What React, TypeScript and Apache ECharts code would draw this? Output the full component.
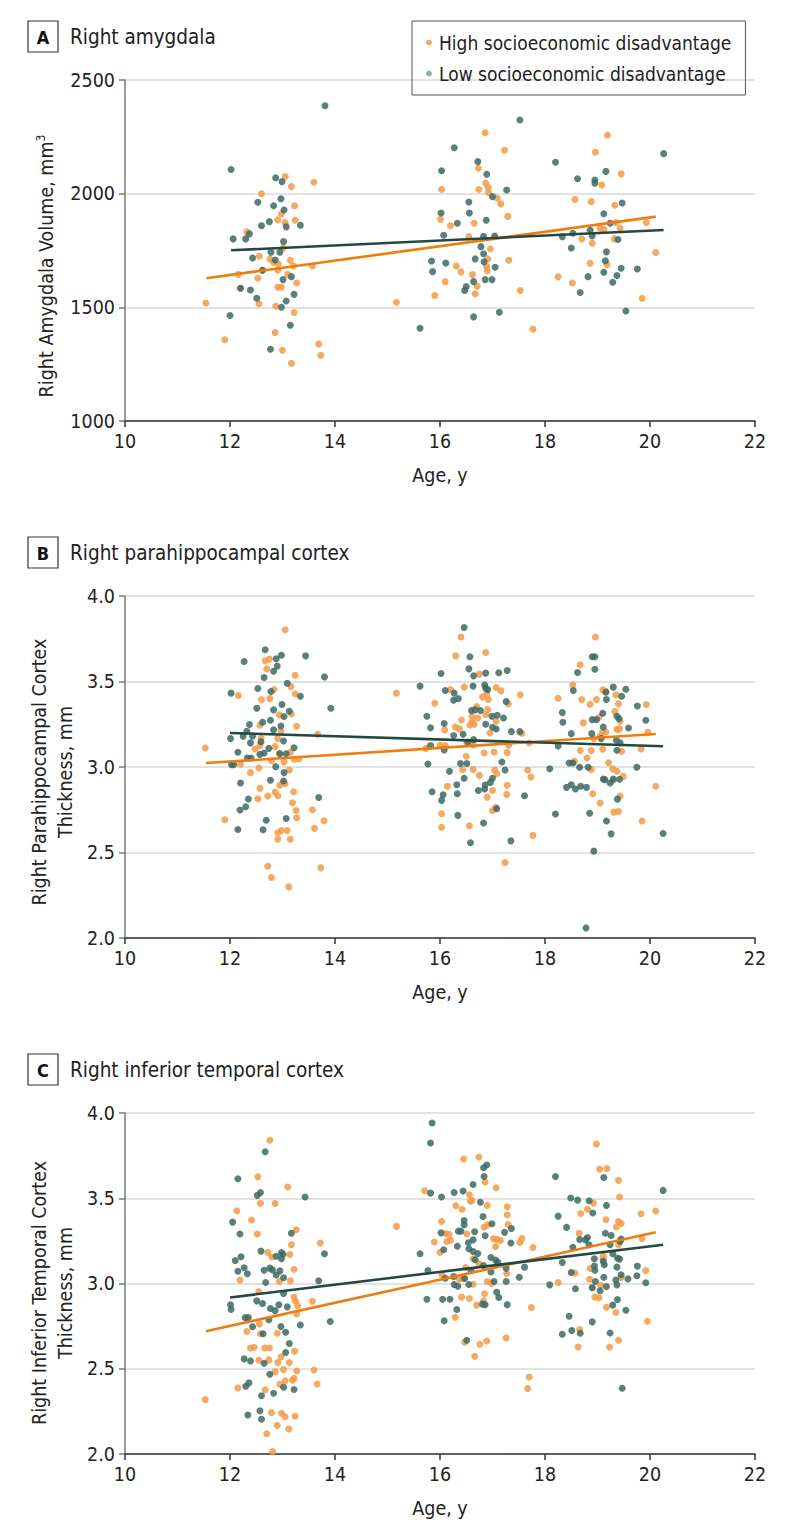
import React, { useEffect, useRef } from "react";
import * as echarts from "echarts";

const FONT = "'DejaVu Sans Condensed', 'Liberation Sans Narrow', sans-serif";

const HIGH = "High socioeconomic disadvantage";
const LOW = "Low socioeconomic disadvantage";

// Panel A: Right amygdala volume (mm3) vs age
const amygHigh: number[][] = [
  [13.05,2075],[13.17,2031],[13.6,2050],[12.6,2000],[13.23,1947],[12.91,1884],[12.98,1911],[13.24,1883],[13.05,1873],[12.32,1832],[13.01,1760],[12.56,1725],[12.76,1713],[12.83,1697],[12.92,1691],[13.15,1707],[13.21,1682],[13.57,1682],[12.91,1664],[12.62,1663],[12.16,1645],[12.53,1628],[13.1,1645],[13.27,1607],[12.91,1588],[12.98,1588],[12.2,1584],[11.54,1519],[12.55,1516],[12.87,1505],[13.22,1477],[15.17,1522],[11.9,1357],[12.86,1389],[13.69,1339],[13.73,1289],[13.0,1311],[13.17,1254],
  [16.86,2268],[17.23,2191],[16.73,2112],[16.87,2047],[16.92,2027],[16.74,2018],[16.92,2005],[17.09,1980],[17.16,1955],[17.29,1900],[16.03,2018],[16.01,1887],[16.2,1859],[16.65,1870],[16.55,1811],[16.96,1758],[17.31,1707],[16.91,1713],[16.89,1679],[16.9,1661],[16.31,1682],[16.4,1656],[16.62,1644],[16.71,1593],[16.67,1560],[16.1,1613],[15.9,1552],[17.53,1574],[17.77,1405],
  [19.19,2258],[18.96,2182],[19.45,2087],[19.08,2038],[18.57,1975],[18.88,1965],[19.33,1949],[19.35,1873],[19.43,1848],[19.05,1848],[19.12,1843],[18.7,1801],[18.9,1782],[19.32,1801],[18.86,1694],[19.18,1688],[19.93,1873],[20.11,1741],[18.25,1634],[18.52,1607],[19.85,1540]
];
const amygLow: number[][] = [
  [13.81,2387],[12.02,2106],[12.87,2070],[12.99,2053],[12.97,1978],[12.53,1962],[12.83,1947],[13.03,1928],[12.75,1877],[12.6,1859],[13.07,1854],[13.34,1861],[12.06,1801],[12.37,1823],[12.3,1801],[13.02,1789],[12.43,1717],[12.78,1742],[12.95,1742],[12.86,1708],[12.62,1663],[13.01,1622],[13.17,1635],[12.2,1584],[12.39,1576],[12.51,1540],[13.07,1528],[13.22,1557],[12.98,1500],[12.0,1464],[13.15,1421],[12.77,1316],
  [15.62,1408],[17.52,2324],[16.27,2202],[16.03,2101],[16.72,2141],[16.89,2085],[17.27,2016],[17.0,1987],[16.55,1963],[16.56,1915],[16.02,1915],[16.88,1883],[16.33,1870],[16.07,1817],[16.83,1812],[17.04,1814],[16.78,1767],[16.83,1736],[16.67,1713],[16.84,1700],[17.05,1676],[15.84,1704],[15.86,1657],[16.11,1695],[16.64,1613],[16.47,1574],[16.5,1591],[16.86,1622],[16.99,1622],[16.64,1458],[17.13,1478],
  [18.2,2138],[18.62,2066],[18.95,2060],[18.95,2046],[19.16,2098],[19.47,1959],[19.12,1912],[19.24,1870],[18.86,1839],[18.53,1826],[18.33,1811],[18.9,1814],[19.39,1798],[18.5,1761],[19.17,1744],[19.15,1705],[18.82,1635],[19.12,1654],[19.45,1672],[19.37,1640],[19.29,1610],[19.76,1669],[18.67,1565],[19.54,1484],[20.26,2176]
];
const amygHighFit: number[][] = [[11.55,1628],[20.11,1899]];
const amygLowFit: number[][] = [[12.02,1751],[20.26,1840]];

// Panel B: Right parahippocampal cortex thickness (mm)
const paraHigh: number[][] = [
  [13.05,3.803],[12.67,3.621],[12.75,3.631],[12.7,3.574],[13.24,3.537],[12.16,3.418],[12.84,3.453],[13.16,3.471],[13.24,3.428],[12.6,3.393],[12.76,3.4],[12.94,3.305],[13.17,3.311],[12.57,3.244],[13.27,3.238],[12.97,3.211],[13.67,3.191],[11.53,3.111],[12.59,3.168],[12.91,3.166],[12.57,3.125],[12.86,3.119],[12.48,3.105],[13.15,3.086],[12.94,3.08],[12.79,3.037],[13.03,3.029],[13.22,3.045],[13.31,3.047],[12.2,3.016],[12.55,2.994],[13.13,2.982],[12.39,2.967],[12.95,2.893],[13.05,2.902],[12.57,2.875],[12.86,2.854],[13.21,2.855],[12.72,2.83],[12.91,2.832],[12.53,2.814],[13.19,2.791],[13.26,2.746],[13.27,2.703],[13.57,2.75],[11.9,2.691],[13.79,2.686],[13.61,2.641],[12.91,2.615],[12.98,2.629],[13.09,2.629],[12.91,2.578],[13.15,2.578],[12.72,2.42],[12.79,2.354],[13.73,2.41],[13.12,2.299],
  [15.17,3.432],[15.9,3.373],[15.73,3.109],[16.0,3.127],[16.1,3.125],[16.09,3.217],[16.14,2.887],[16.03,2.727],[16.03,2.648],
  [16.4,3.76],[16.3,3.65],[16.87,3.67],[16.75,3.543],[16.2,3.453],[16.46,3.467],[17.07,3.465],[17.16,3.445],[16.89,3.428],[16.81,3.41],[16.92,3.395],[17.53,3.422],[17.3,3.369],[16.7,3.354],[16.91,3.336],[16.87,3.307],[16.61,3.297],[16.72,3.287],[16.61,3.264],[16.41,3.275],[16.57,3.246],[16.65,3.25],[16.29,3.234],[16.37,3.223],[16.95,3.199],[17.07,3.267],[17.56,3.197],[17.7,3.14],[16.51,3.143],[16.64,3.129],[17.31,3.127],[16.84,3.082],[17.03,3.088],[17.28,3.084],[16.5,3.063],[16.43,2.984],[16.63,2.986],[16.75,2.951],[17.04,2.982],[17.08,2.961],[17.67,2.982],[17.73,2.941],[17.28,2.893],[17.0,2.863],[17.27,2.84],[16.9,2.824],[17.0,2.746],[17.06,2.764],[16.56,2.656],[17.77,2.6],[17.24,2.441],
  [18.25,3.402],[18.53,3.48],[18.67,3.598],[18.96,3.76],[18.7,3.395],[18.86,3.367],[18.98,3.395],[18.73,3.258],[19.1,3.451],[19.16,3.443],[19.35,3.422],[19.4,3.369],[19.93,3.365],[19.33,3.324],[19.43,3.268],[19.03,3.291],[19.37,3.219],[19.42,3.223],[19.1,3.205],[19.16,3.205],[18.93,3.166],[19.05,3.18],[19.96,3.203],[18.67,3.096],[18.88,3.096],[19.1,3.104],[19.46,3.092],[19.83,3.106],[18.56,3.033],[18.8,3.053],[18.88,2.986],[19.21,3.025],[19.29,2.99],[19.37,2.975],[19.49,2.945],[19.3,2.922],[18.91,2.844],[19.05,2.789],[19.43,2.83],[19.31,2.736],[19.4,2.74],[19.85,2.684],[20.11,2.887]
];
const paraLow: number[][] = [
  [12.67,3.686],[12.98,3.654],[12.88,3.633],[12.9,3.59],[12.27,3.617],[13.44,3.65],[12.83,3.56],[12.65,3.523],[13.8,3.527],[13.09,3.49],[12.53,3.459],[12.02,3.432],[12.78,3.441],[13.34,3.414],[12.99,3.365],[12.51,3.344],[12.83,3.334],[13.13,3.326],[13.03,3.295],[13.92,3.344],[12.77,3.273],[12.62,3.262],[12.37,3.248],[12.97,3.24],[12.83,3.217],[12.32,3.209],[12.25,3.18],[12.01,3.166],[12.43,3.18],[12.59,3.148],[12.39,3.141],[13.02,3.152],[12.15,3.086],[12.74,3.109],[12.65,3.082],[13.22,3.113],[12.57,3.074],[12.33,3.053],[12.4,3.053],[12.95,3.078],[13.07,3.078],[12.07,3.014],[12.03,3.014],[12.87,3.002],[13.03,2.967],[12.2,2.906],[12.77,2.922],[13.02,2.918],[12.35,2.813],[12.3,2.768],[12.19,2.748],[13.69,2.822],[12.69,2.689],[13.07,2.699],[12.15,2.635],[12.63,2.633],
  [16.02,3.547],[15.62,3.473],[16.1,3.447],[15.75,3.297],[15.82,3.229],[16.08,3.254],[15.82,3.125],[16.08,3.1],[15.77,3.018],[16.18,2.975],[15.85,2.855],[16.06,2.838],[16.03,2.805],
  [16.46,3.816],[16.57,3.645],[16.55,3.574],[16.64,3.533],[16.87,3.549],[17.12,3.551],[17.28,3.564],[16.63,3.473],[16.85,3.48],[16.87,3.46],[16.91,3.453],[16.27,3.432],[16.26,3.39],[16.35,3.4],[17.26,3.383],[16.6,3.33],[16.67,3.334],[16.77,3.33],[16.99,3.297],[17.09,3.303],[17.21,3.287],[16.87,3.25],[17.0,3.232],[17.07,3.222],[16.26,3.184],[16.44,3.191],[16.64,3.16],[17.36,3.207],[17.52,3.207],[16.53,3.146],[17.18,3.029],[16.39,3.02],[16.51,3.02],[16.46,2.934],[17.24,2.982],[17.0,2.934],[16.96,2.91],[16.86,2.895],[16.85,2.871],[16.32,2.896],[16.33,2.844],[16.73,2.863],[17.61,2.832],[17.08,2.756],[16.34,2.717],[16.83,2.672],[16.58,2.557],[17.35,2.568],
  [18.2,2.725],[18.09,2.99],[18.25,3.123],[18.33,3.318],[18.34,3.262],[18.5,3.195],[18.54,3.447],[18.62,3.553],[18.9,3.645],[18.95,3.645],[18.95,3.572],[19.3,3.467],[19.16,3.437],[19.17,3.395],[19.46,3.414],[19.54,3.455],[19.76,3.357],[19.92,3.273],[19.59,3.228],[19.37,3.297],[19.41,3.283],[19.1,3.314],[18.9,3.277],[18.98,3.277],[18.89,3.195],[19.11,3.234],[19.07,3.166],[19.36,3.156],[19.43,3.141],[19.37,3.098],[18.46,3.023],[18.53,3.023],[18.66,2.998],[18.82,2.998],[19.75,2.998],[18.41,2.881],[18.5,2.896],[18.58,2.871],[18.68,2.887],[18.79,2.881],[19.11,2.93],[19.14,2.926],[19.24,2.906],[19.3,2.93],[19.42,2.928],[19.38,2.812],[18.85,2.73],[19.17,2.684],[19.26,2.609],[18.93,2.508],[18.78,2.059],[20.25,2.611]
];
const paraHighFit: number[][] = [[11.54,3.023],[20.11,3.193]];
const paraLowFit: number[][] = [[12.0,3.199],[20.25,3.121]];

// Panel C: Right inferior temporal cortex thickness (mm)
const itcHigh: number[][] = [
  [12.76,3.84],[12.53,3.626],[13.1,3.566],[12.58,3.471],[12.86,3.469],[12.13,3.427],[12.41,3.372],[12.52,3.29],[13.26,3.315],[13.17,3.227],[13.72,3.237],[12.72,3.182],[12.8,3.155],[13.14,3.17],[13.22,3.084],[12.19,3.02],[12.94,3.012],[13.15,3.016],[12.55,2.953],[13.22,2.92],[13.25,2.896],[13.29,2.869],[13.27,2.822],[13.57,2.896],[12.56,2.763],[12.32,2.718],[12.58,2.705],[12.9,2.708],[12.39,2.622],[12.46,2.626],[12.66,2.622],[12.75,2.622],[13.23,2.603],[12.55,2.55],[12.74,2.552],[12.91,2.536],[12.97,2.569],[13.13,2.536],[12.86,2.483],[13.02,2.495],[13.27,2.487],[13.6,2.493],[12.95,2.409],[13.05,2.429],[13.19,2.432],[13.22,2.444],[13.66,2.411],[12.15,2.387],[12.67,2.376],[11.53,2.319],[12.79,2.243],[12.98,2.239],[13.05,2.219],[13.24,2.221],[12.9,2.168],[13.12,2.147],[12.7,2.119],[12.81,2.014],
  [15.71,3.544],[15.17,3.335],[16.03,3.364],[16.11,3.293],[16.13,3.246],[15.89,3.243],[16.0,3.182],[16.04,3.05],
  [16.45,3.73],[16.74,3.742],[16.86,3.595],[17.07,3.562],[16.56,3.52],[16.58,3.483],[16.61,3.487],[16.3,3.456],[16.42,3.436],[16.9,3.458],[17.28,3.45],[17.28,3.403],[17.3,3.346],[16.17,3.288],[16.2,3.254],[16.51,3.29],[16.84,3.331],[16.91,3.344],[17.02,3.262],[17.09,3.258],[17.15,3.252],[17.06,3.217],[17.52,3.241],[17.56,3.264],[17.77,3.211],[16.63,3.145],[16.74,3.117],[16.49,3.094],[16.37,3.025],[16.45,3.031],[16.63,2.996],[16.9,3.012],[16.98,3.0],[17.27,3.059],[16.85,2.94],[16.83,2.898],[16.41,2.92],[16.56,2.912],[16.7,2.873],[16.29,2.802],[17.74,2.859],[16.47,2.656],[16.76,2.644],[16.89,2.663],[16.66,2.573],[17.26,2.681],[17.7,2.452],[17.67,2.384],
  [18.98,3.818],[19.04,3.671],[19.18,3.675],[19.4,3.605],[19.42,3.507],[18.92,3.472],[18.81,3.436],[18.68,3.411],[19.16,3.374],[19.36,3.331],[19.4,3.364],[19.45,3.352],[19.83,3.409],[20.11,3.425],[18.65,3.294],[19.85,3.262],[19.4,3.227],[18.86,3.088],[18.57,3.061],[19.11,3.159],[19.11,3.143],[18.25,3.006],[18.85,3.025],[18.9,2.977],[19.06,2.99],[19.45,3.035],[19.92,3.076],[18.95,2.92],[19.03,2.916],[19.17,2.861],[19.35,2.83],[19.95,2.779],[18.66,2.73],[18.63,2.628],[19.23,2.628],[19.4,2.667]
];
const itcLow: number[][] = [
  [12.67,3.773],[12.15,3.614],[12.52,3.517],[12.58,3.533],[13.43,3.507],[12.05,3.36],[12.19,3.29],[13.17,3.295],[12.59,3.19],[12.1,3.135],[12.21,3.157],[12.88,3.16],[12.98,3.182],[13.01,3.172],[12.98,3.145],[13.8,3.174],[12.65,3.078],[12.76,3.09],[12.81,3.08],[12.95,3.074],[12.88,3.05],[13.02,3.034],[12.15,3.072],[12.27,3.092],[12.33,3.057],[12.68,3.006],[13.69,3.016],[13.02,2.941],[12.01,2.875],[12.02,2.848],[12.51,2.898],[12.62,2.883],[12.77,2.853],[12.86,2.841],[12.93,2.875],[13.09,2.863],[12.29,2.8],[12.35,2.8],[12.74,2.787],[12.43,2.746],[12.63,2.705],[12.97,2.748],[13.06,2.714],[13.34,2.757],[13.91,2.777],[13.13,2.648],[13.06,2.595],[12.27,2.558],[12.39,2.546],[12.65,2.532],[12.76,2.468],[12.36,2.417],[12.3,2.397],[13.02,2.391],[13.22,2.378],[12.6,2.342],[12.83,2.356],[12.57,2.254],[12.34,2.229],[12.6,2.204],
  [15.85,3.941],[15.82,3.824],[15.82,3.53],[16.03,3.507],[16.02,3.297],[16.07,3.198],[15.62,3.174],[15.77,3.076],[16.1,3.031],[15.75,2.908],[16.05,2.908],[16.19,2.908],[16.08,2.781],
  [16.27,3.534],[16.44,3.542],[16.63,3.581],[16.84,3.628],[16.83,3.679],[16.89,3.695],[16.77,3.477],[16.82,3.393],[16.99,3.35],[16.46,3.37],[16.46,3.345],[16.35,3.307],[16.4,3.307],[16.66,3.303],[16.86,3.28],[16.54,3.239],[16.63,3.256],[17.23,3.3],[17.36,3.323],[17.35,3.237],[16.33,3.219],[16.55,3.204],[16.63,3.188],[16.72,3.176],[16.67,3.139],[16.97,3.153],[17.06,3.137],[16.83,3.106],[16.59,3.076],[16.97,3.067],[17.26,3.09],[17.1,3.125],[16.26,3.041],[16.27,2.994],[16.34,2.984],[16.47,3.029],[16.55,2.994],[17.03,3.012],[17.26,3.012],[17.51,3.037],[17.61,3.096],[17.08,2.949],[17.12,2.918],[16.81,2.879],[16.86,2.875],[16.32,2.847],[17.28,2.876],[16.51,2.667],
  [18.2,3.628],[18.49,3.501],[18.62,3.489],[18.84,3.485],[18.91,3.413],[19.17,3.458],[19.12,3.622],[18.25,3.395],[18.41,3.329],[18.81,3.27],[18.77,3.256],[18.66,3.258],[19.15,3.295],[19.26,3.282],[19.45,3.261],[19.43,3.247],[19.24,3.227],[19.29,3.174],[18.84,3.227],[18.53,3.213],[18.33,3.123],[18.94,3.145],[18.94,3.102],[18.95,3.078],[19.11,3.129],[19.13,3.11],[19.38,3.149],[19.42,3.143],[19.37,3.096],[18.5,3.065],[19.12,3.037],[18.96,3.012],[19.45,3.051],[19.58,3.027],[19.76,3.102],[19.75,3.045],[19.92,3.004],[19.35,3.02],[19.37,2.992],[18.09,2.992],[18.58,2.969],[18.9,2.975],[19.05,2.957],[19.17,2.982],[19.38,2.906],[19.29,2.873],[19.54,2.843],[18.46,2.808],[18.9,2.775],[18.33,2.702],[18.51,2.724],[18.67,2.708],[19.24,2.71],[19.47,2.386],[20.25,3.546]
];
const itcHighFit: number[][] = [[11.54,2.72],[20.11,3.301]];
const itcLowFit: number[][] = [[12.0,2.918],[20.25,3.227]];

const ageTicks = { min: 10, max: 22, interval: 2 };
const panelTitles = ["Right amygdala", "Right parahippocampal cortex", "Right inferior temporal cortex"];
const panelLetters = ["A", "B", "C"];

const ORANGE_DOT = "#F59A45";
const TEAL_DOT = "#3D6A64";
const ORANGE_LINE = "#EF7D0E";
const TEAL_LINE = "#234843";

const GRIDS = [
  { left: 125, top: 80, width: 630, height: 341 },
  { left: 125, top: 596, width: 630, height: 342 },
  { left: 125, top: 1113, width: 630, height: 341 },
];

export default function App() {
  const ref = useRef<HTMLDivElement>(null);
  useEffect(() => {
    document.body.style.margin = "0";
    if (!ref.current) return;
    const chart = echarts.init(ref.current, undefined, { renderer: "svg" });

    const textBase = { fontFamily: FONT, color: "#222" };

    const xAxis = GRIDS.map((_, i) => ({
      type: "value",
      gridIndex: i,
      min: ageTicks.min,
      max: ageTicks.max,
      interval: ageTicks.interval,
      name: "Age, y",
      nameLocation: "middle",
      nameGap: 44,
      nameTextStyle: { ...textBase, fontSize: 19.5 },
      axisLine: { show: true, onZero: false, lineStyle: { color: "#333", width: 1.5 } },
      axisTick: { show: true, length: 6, lineStyle: { color: "#333", width: 1.5 } },
      axisLabel: { ...textBase, fontSize: 19.5, margin: 10 },
      splitLine: { show: false },
    }));

    const yRanges = [
      { min: 1000, max: 2500, interval: 500, fmt: (v: number) => String(v) },
      { min: 2, max: 4, interval: 0.5, fmt: (v: number) => v.toFixed(1) },
      { min: 2, max: 4, interval: 0.5, fmt: (v: number) => v.toFixed(1) },
    ];
    const yAxis = yRanges.map((r, i) => ({
      type: "value",
      gridIndex: i,
      min: r.min,
      max: r.max,
      interval: r.interval,
      axisLine: { show: true, lineStyle: { color: "#7a7a7a", width: 1.5 } },
      axisTick: { show: true, length: 6, lineStyle: { color: "#7a7a7a", width: 1.5 } },
      axisLabel: { ...textBase, fontSize: 19.5, margin: 10, formatter: r.fmt },
      splitLine: { show: true, lineStyle: { color: "#d9d9d9", width: 1.5 } },
    }));

    const panels = [
      [amygHigh, amygLow, amygHighFit, amygLowFit],
      [paraHigh, paraLow, paraHighFit, paraLowFit],
      [itcHigh, itcLow, itcHighFit, itcLowFit],
    ];
    const series: any[] = [];
    panels.forEach((p, i) => {
      series.push({
        type: "scatter", name: HIGH, xAxisIndex: i, yAxisIndex: i, data: p[0],
        symbolSize: 7, itemStyle: { color: ORANGE_DOT, opacity: 0.85 }, z: 2,
      });
      series.push({
        type: "scatter", name: LOW, xAxisIndex: i, yAxisIndex: i, data: p[1],
        symbolSize: 7, itemStyle: { color: TEAL_DOT, opacity: 0.85 }, z: 2,
      });
      series.push({
        type: "line", name: "High fit " + i, xAxisIndex: i, yAxisIndex: i, data: p[2],
        symbol: "none", lineStyle: { color: ORANGE_LINE, width: 2.6 }, z: 5, silent: true,
      });
      series.push({
        type: "line", name: "Low fit " + i, xAxisIndex: i, yAxisIndex: i, data: p[3],
        symbol: "none", lineStyle: { color: TEAL_LINE, width: 2.6 }, z: 5, silent: true,
      });
    });

    const graphic: any[] = [];
    GRIDS.forEach((g, i) => {
      const boxTop = g.top - 59;
      graphic.push({
        type: "rect",
        shape: { x: 28, y: boxTop, width: 30, height: 31 },
        style: { fill: "none", stroke: "#333", lineWidth: 1.2 },
      });
      graphic.push({
        type: "text", x: 43, y: boxTop + 16,
        style: { text: panelLetters[i], font: `bold 18px ${FONT}`, fill: "#111", align: "center", verticalAlign: "middle" },
      });
      graphic.push({
        type: "text", x: 70, y: boxTop + 16,
        style: { text: panelTitles[i], font: `20.5px ${FONT}`, fill: "#222", align: "left", verticalAlign: "middle" },
      });
    });
    graphic.push({
      type: "text", x: 46, y: 266, rotation: Math.PI / 2,
      style: {
        text: "Right Amygdala Volume, mm{sup|3}",
        font: `19.5px ${FONT}`, fill: "#222", align: "center", verticalAlign: "middle",
        rich: { sup: { fontSize: 12, fontFamily: FONT, fill: "#222", verticalAlign: "top", lineHeight: 22 } },
      },
    });
    graphic.push({
      type: "text", x: 52, y: 772, rotation: Math.PI / 2,
      style: {
        text: "Right Parahippocampal Cortex\nThickness, mm",
        font: `19.5px ${FONT}`, fill: "#222", align: "center", verticalAlign: "middle", lineHeight: 26,
      },
    });
    graphic.push({
      type: "text", x: 52, y: 1293, rotation: Math.PI / 2,
      style: {
        text: "Right Inferior Temporal Cortex\nThickness, mm",
        font: `19.5px ${FONT}`, fill: "#222", align: "center", verticalAlign: "middle", lineHeight: 26,
      },
    });

    chart.setOption({
      animation: false,
      backgroundColor: "#fff",
      grid: GRIDS.map((g) => ({ ...g, containLabel: false })),
      xAxis,
      yAxis,
      legend: {
        data: [
          { name: HIGH, itemStyle: { color: ORANGE_DOT } },
          { name: LOW, itemStyle: { color: "#7FA3A0" } },
        ],
        left: 412,
        top: 21,
        orient: "vertical",
        icon: "circle",
        itemWidth: 6,
        itemHeight: 6,
        itemGap: 12,
        padding: [12, 14, 12, 14],
        borderColor: "#555",
        borderWidth: 1,
        selectedMode: false,
        textStyle: { ...textBase, fontSize: 19, padding: [0, 0, 0, 2] },
      },
      series,
      graphic,
    });
    return () => chart.dispose();
  }, []);
  return <div ref={ref} style={{ width: 794, height: 1539 }} />;
}
